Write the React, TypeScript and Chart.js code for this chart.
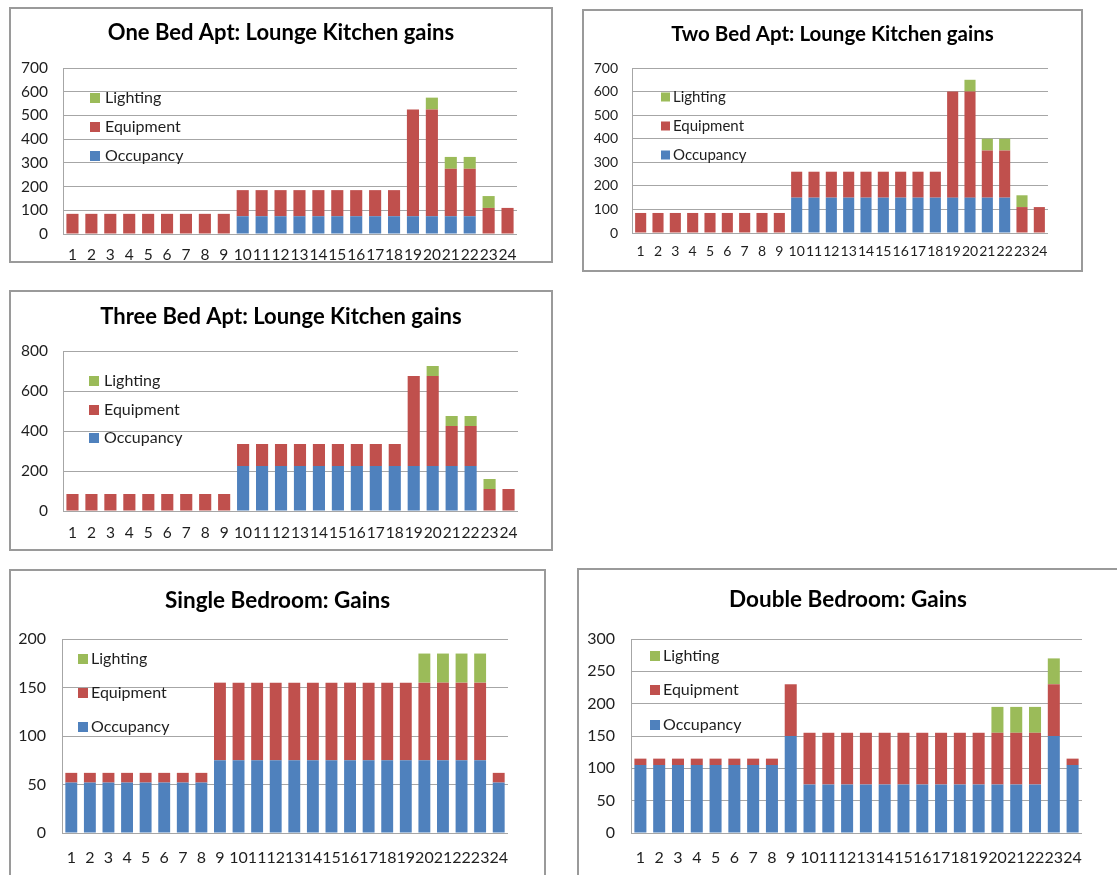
import React, { useEffect, useRef } from 'react';
import { Chart, registerables } from 'chart.js';

Chart.register(...registerables);

const HOURS = ['1', '2', '3', '4', '5', '6', '7', '8', '9', '10', '11', '12', '13', '14', '15', '16', '17', '18', '19', '20', '21', '22', '23', '24'];
const SERIES_NAMES = ['Occupancy', 'Equipment', 'Lighting'];

const ONE_BED_OCC = [0, 0, 0, 0, 0, 0, 0, 0, 0, 75, 75, 75, 75, 75, 75, 75, 75, 75, 75, 75, 75, 75, 0, 0];
const ONE_BED_EQUIP = [85, 85, 85, 85, 85, 85, 85, 85, 85, 110, 110, 110, 110, 110, 110, 110, 110, 110, 450, 450, 200, 200, 110, 110];
const ONE_BED_LIGHT = [0, 0, 0, 0, 0, 0, 0, 0, 0, 0, 0, 0, 0, 0, 0, 0, 0, 0, 0, 50, 50, 50, 50, 0];

const TWO_BED_OCC = [0, 0, 0, 0, 0, 0, 0, 0, 0, 150, 150, 150, 150, 150, 150, 150, 150, 150, 150, 150, 150, 150, 0, 0];
const TWO_BED_EQUIP = [85, 85, 85, 85, 85, 85, 85, 85, 85, 110, 110, 110, 110, 110, 110, 110, 110, 110, 450, 450, 200, 200, 110, 110];
const TWO_BED_LIGHT = [0, 0, 0, 0, 0, 0, 0, 0, 0, 0, 0, 0, 0, 0, 0, 0, 0, 0, 0, 50, 50, 50, 50, 0];

const THREE_BED_OCC = [0, 0, 0, 0, 0, 0, 0, 0, 0, 225, 225, 225, 225, 225, 225, 225, 225, 225, 225, 225, 225, 225, 0, 0];
const THREE_BED_EQUIP = [85, 85, 85, 85, 85, 85, 85, 85, 85, 110, 110, 110, 110, 110, 110, 110, 110, 110, 450, 450, 200, 200, 110, 110];
const THREE_BED_LIGHT = [0, 0, 0, 0, 0, 0, 0, 0, 0, 0, 0, 0, 0, 0, 0, 0, 0, 0, 0, 50, 50, 50, 50, 0];

const SINGLE_OCC = [52, 52, 52, 52, 52, 52, 52, 52, 75, 75, 75, 75, 75, 75, 75, 75, 75, 75, 75, 75, 75, 75, 75, 52];
const SINGLE_EQUIP = [10, 10, 10, 10, 10, 10, 10, 10, 80, 80, 80, 80, 80, 80, 80, 80, 80, 80, 80, 80, 80, 80, 80, 10];
const SINGLE_LIGHT = [0, 0, 0, 0, 0, 0, 0, 0, 0, 0, 0, 0, 0, 0, 0, 0, 0, 0, 0, 30, 30, 30, 30, 0];

const DOUBLE_OCC = [105, 105, 105, 105, 105, 105, 105, 105, 150, 75, 75, 75, 75, 75, 75, 75, 75, 75, 75, 75, 75, 75, 150, 105];
const DOUBLE_EQUIP = [10, 10, 10, 10, 10, 10, 10, 10, 80, 80, 80, 80, 80, 80, 80, 80, 80, 80, 80, 80, 80, 80, 80, 10];
const DOUBLE_LIGHT = [0, 0, 0, 0, 0, 0, 0, 0, 0, 0, 0, 0, 0, 0, 0, 0, 0, 0, 0, 40, 40, 40, 40, 0];

const BLUE = '#4f81bd';
const RED = '#c0504d';
const GREEN = '#9bbb59';
const GRID = '#a6a6a6';
const TEXT = '#1e1e1e';
const FONT = 'Lato, "Open Sans", sans-serif';

type Spec = {
  title: string;
  box: { l: number; t: number; w: number; h: number };
  plot: { l: number; t: number; r: number; b: number };
  yMax: number;
  yStep: number;
  occ: number[];
  equip: number[];
  light: number[];
  titleSize: number;
  titleY: number;
  tickSize: number;
  yPad: number;
  xPad: number;
  leg: { x: number; tx: number; ys: number[]; size: number; font: number };
};

const SPECS: Spec[] = [
  {
    title: 'One Bed Apt: Lounge Kitchen gains',
    box: { l: 9, t: 7, w: 544, h: 256 },
    plot: { l: 63, t: 68, r: 517, b: 234 },
    yMax: 700, yStep: 100,
    occ: ONE_BED_OCC, equip: ONE_BED_EQUIP, light: ONE_BED_LIGHT,
    titleSize: 22, titleY: 26, tickSize: 15.5, yPad: 15, xPad: 12,
    leg: { x: 81, tx: 96, ys: [91, 120, 149], size: 10, font: 16 },
  },
  {
    title: 'Two Bed Apt: Lounge Kitchen gains',
    box: { l: 582, t: 9, w: 501, h: 263 },
    plot: { l: 632, t: 68, r: 1048, b: 233 },
    yMax: 700, yStep: 100,
    occ: TWO_BED_OCC, equip: TWO_BED_EQUIP, light: TWO_BED_LIGHT,
    titleSize: 20.5, titleY: 25, tickSize: 14, yPad: 14, xPad: 10,
    leg: { x: 79, tx: 91, ys: [88, 117, 146], size: 9, font: 15 },
  },
  {
    title: 'Three Bed Apt: Lounge Kitchen gains',
    box: { l: 9, t: 290, w: 544, h: 261 },
    plot: { l: 63, t: 351, r: 518, b: 511 },
    yMax: 800, yStep: 200,
    occ: THREE_BED_OCC, equip: THREE_BED_EQUIP, light: THREE_BED_LIGHT,
    titleSize: 22, titleY: 27, tickSize: 15.5, yPad: 15, xPad: 13,
    leg: { x: 80, tx: 95, ys: [91, 120, 148], size: 10, font: 16 },
  },
  {
    title: 'Single Bedroom: Gains',
    box: { l: 9, t: 569, w: 537, h: 320 },
    plot: { l: 62, t: 639, r: 508, b: 833 },
    yMax: 200, yStep: 50,
    occ: SINGLE_OCC, equip: SINGLE_EQUIP, light: SINGLE_LIGHT,
    titleSize: 22.5, titleY: 32, tickSize: 16, yPad: 16, xPad: 15,
    leg: { x: 69, tx: 82, ys: [90, 124, 158], size: 10, font: 16 },
  },
  {
    title: 'Double Bedroom: Gains',
    box: { l: 577, t: 568, w: 542, h: 320 },
    plot: { l: 631, t: 639, r: 1082, b: 833 },
    yMax: 300, yStep: 50,
    occ: DOUBLE_OCC, equip: DOUBLE_EQUIP, light: DOUBLE_LIGHT,
    titleSize: 22.5, titleY: 32, tickSize: 16, yPad: 16, xPad: 15,
    leg: { x: 73, tx: 86, ys: [88, 122, 157], size: 10, font: 16 },
  },
];

const overlayPlugin = {
  id: 'overlay',
  afterDraw(chart: any, _args: any, opts: any) {
    const ctx = chart.ctx;
    ctx.save();
    ctx.fillStyle = '#000';
    ctx.font = `bold ${opts.titleSize}px ${FONT}`;
    ctx.textAlign = 'center';
    ctx.textBaseline = 'middle';
    ctx.fillText(opts.title, chart.width / 2, opts.titleY);
    const ds = chart.data.datasets.slice().reverse();
    ds.forEach((d: any, i: number) => {
      const y = opts.leg.ys[i];
      ctx.fillStyle = d.backgroundColor;
      ctx.fillRect(opts.leg.x, y - opts.leg.size / 2, opts.leg.size, opts.leg.size);
      ctx.fillStyle = TEXT;
      ctx.textAlign = 'left';
      ctx.font = `${opts.leg.font}px ${FONT}`;
      ctx.fillText(d.label, opts.leg.tx, y);
    });
    ctx.restore();
  },
};

function GainsChart({ spec }: { spec: Spec }) {
  const ref = useRef<HTMLCanvasElement | null>(null);
  const { box, plot } = spec;
  useEffect(() => {
    if (!ref.current) return;
    const chart = new Chart(ref.current, {
      type: 'bar',
      data: {
        labels: HOURS,
        datasets: [
          { label: SERIES_NAMES[0], data: spec.occ, backgroundColor: BLUE },
          { label: SERIES_NAMES[1], data: spec.equip, backgroundColor: RED },
          { label: SERIES_NAMES[2], data: spec.light, backgroundColor: GREEN },
        ],
      },
      options: {
        animation: false,
        responsive: false,
        devicePixelRatio: 1,
        layout: { padding: { top: plot.t - box.t, right: box.l + box.w - plot.r, left: 0, bottom: 0 } },
        datasets: { bar: { categoryPercentage: 1, barPercentage: 0.64 } },
        plugins: {
          legend: { display: false },
          title: { display: false },
          tooltip: { enabled: false },
          overlay: { title: spec.title, titleSize: spec.titleSize, titleY: spec.titleY, leg: spec.leg },
        } as any,
        scales: {
          x: {
            stacked: true,
            grid: { display: false, drawTicks: false },
            border: { display: false },
            ticks: {
              autoSkip: false, maxRotation: 0, minRotation: 0, padding: spec.xPad,
              color: TEXT, font: { family: FONT, size: spec.tickSize },
            },
            afterFit: (s: any) => { s.height = box.t + box.h - plot.b; },
          },
          y: {
            stacked: true,
            min: 0,
            max: spec.yMax,
            grid: { color: GRID, drawTicks: false },
            border: { display: true, color: GRID },
            ticks: {
              stepSize: spec.yStep, padding: spec.yPad,
              color: TEXT, font: { family: FONT, size: spec.tickSize },
            },
            afterFit: (s: any) => { s.width = plot.l - box.l; },
          },
        },
      },
      plugins: [overlayPlugin as any],
    });
    return () => chart.destroy();
  }, [spec]);
  return (
    <>
      <canvas
        ref={ref}
        width={box.w}
        height={box.h}
        style={{ position: 'absolute', left: box.l, top: box.t, width: box.w, height: box.h }}
      />
      <div
        style={{
          position: 'absolute', left: box.l, top: box.t, width: box.w, height: box.h,
          border: '2px solid #9a9a9a', boxSizing: 'border-box', pointerEvents: 'none',
        }}
      />
    </>
  );
}

export default function App() {
  return (
    <div style={{ position: 'absolute', left: 0, top: 0, width: 1117, height: 875, overflow: 'hidden', background: '#fff' }}>
      {SPECS.map((s) => (
        <GainsChart key={s.title} spec={s} />
      ))}
    </div>
  );
}
